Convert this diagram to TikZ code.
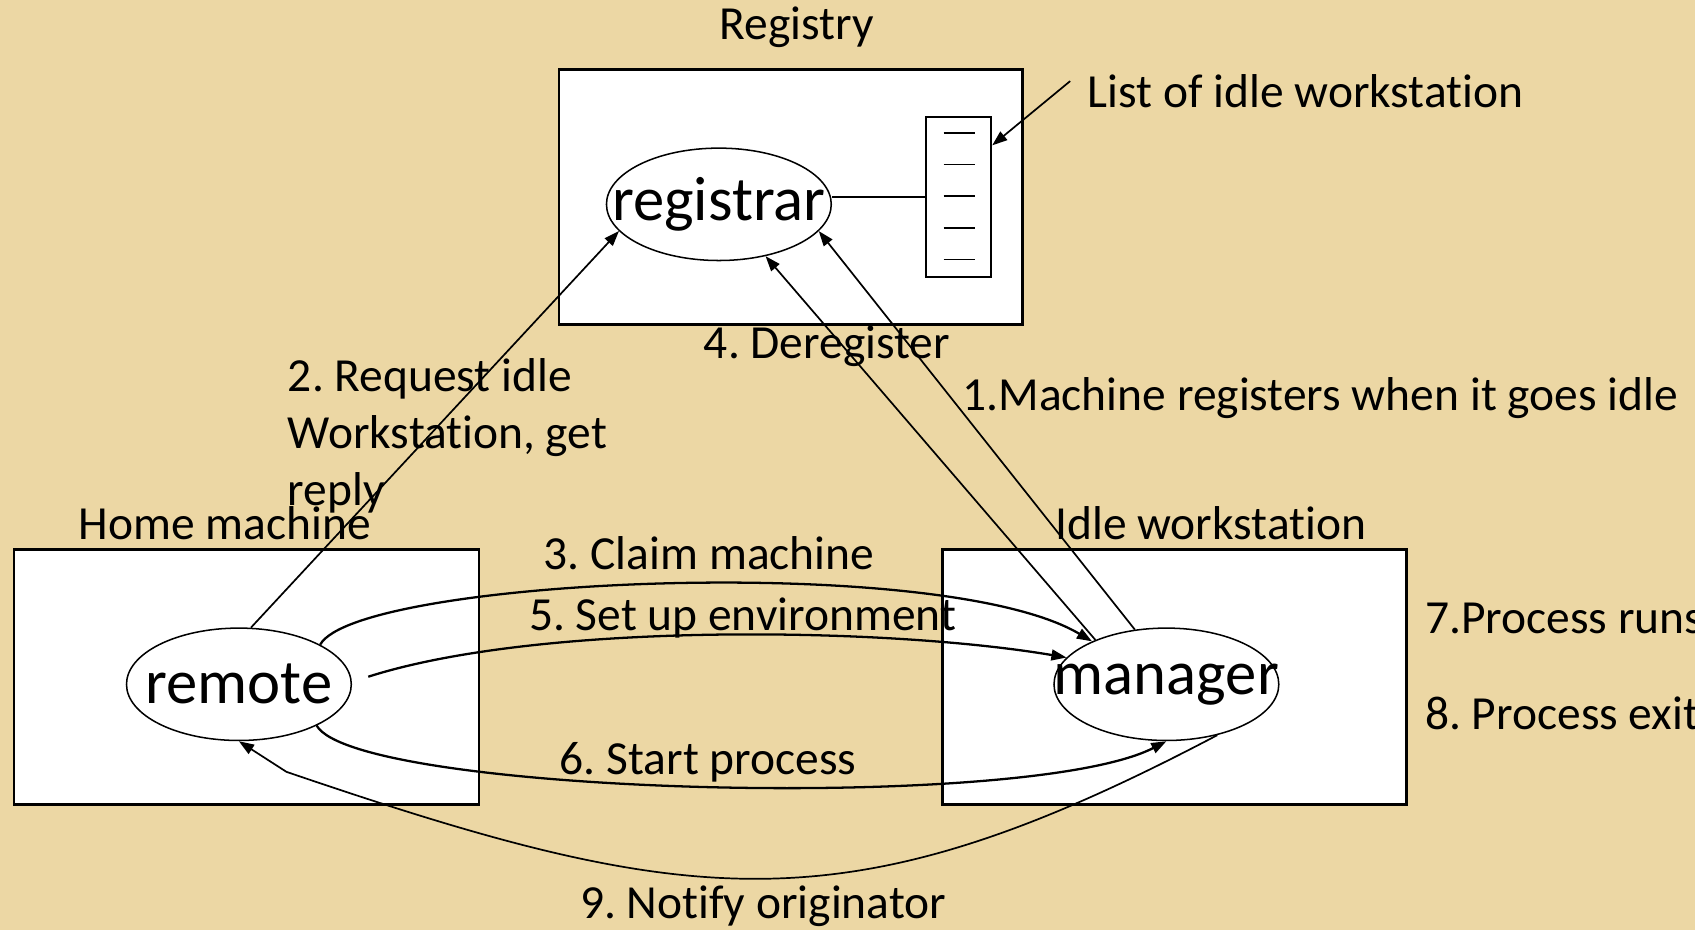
\documentclass[tikz,border=0pt]{standalone}
\usepackage{fontspec}
\setmainfont{Carlito}[Ligatures=NoCommon]
\usetikzlibrary{arrows.meta,shapes.geometric}
\definecolor{paper}{RGB}{236,215,164}
\frenchspacing
\tikzset{
  box/.style={draw,fill=white,line width=1.4pt,inner sep=0pt},
  proc/.style={ellipse,draw,fill=white,line width=0.8pt,inner sep=0pt,minimum width=4.16cm,minimum height=2.08cm,font=\fontsize{33}{40}\selectfont},
  lbl/.style={font=\fontsize{25}{30}\selectfont,inner sep=0pt},
  msg/.style={line width=0.9pt,-{Triangle[length=0.28cm,width=0.2cm]}},
  bend msg/.style={msg,line width=1.2pt}
}
\begin{document}
\begin{tikzpicture}[x=0.02cm,y=-0.02cm]
  \useasboundingbox (0,0) rectangle (1568,860);
  \clip (0,0) rectangle (1568,860);
  \fill[paper] (0,0) rectangle (1568,860);

  % machines
  \node (registry) at (731.5, 182) [box,minimum width=8.58cm,minimum height=4.72cm] {};
  \node (home) at (228, 626) [box,minimum width=8.6cm,minimum height=4.72cm] {};
  \node (idle) at (1086.5, 626) [box,minimum width=8.58cm,minimum height=4.72cm] {};
  \node (list) at (887, 182) [box,line width=1pt,minimum width=1.2cm,minimum height=2.96cm] {};
  \foreach \k in {0,...,4}
    \draw[line width=0.8pt] (873, {123+29.25*\k}) -- ++(29, 0);

  \node (registrar) at (665, 189) [proc] {\makebox[0pt]{registrar}};
  \node (remote) at (221, 633) [proc] {\makebox[0pt]{remote}};
  \node (manager) at (1079, 633) [proc] {\makebox[0pt]{manager}};

  % labels
  \node (registrylbl) at (737, 25) [lbl] {Registry};
  \node (homelbl) at (208, 484) [lbl] {Home machine};
  \node (idlelbl) at (1120, 484) [lbl] {Idle workstation};
  \node (listlbl) at (1006, 84) [lbl,anchor=west] {List of idle workstation};
  \node (reqlbl) at (266, 403) [lbl,anchor=west,align=left] {2. Request idle\\Workstation, get\\reply};
  \node (dereglbl) at (765, 320) [lbl] {4. Deregister};
  \node (reglbl) at (890, 368) [lbl,anchor=west] {1.Machine registers when it goes idle};
  \node (claimlbl) at (656, 512) [lbl] {3. Claim machine};
  \node (envlbl) at (687, 572) [lbl] {5. Set up environment};
  \node (startlbl) at (655, 705) [lbl] {6. Start process};
  \node (notifylbl) at (706, 838) [lbl] {9. Notify originator};
  \node (runslbl) at (1318, 572) [lbl,anchor=west] {7.Process runs};
  \node (exitlbl) at (1318, 660) [lbl,anchor=west] {8. Process exit};

  % messages
  \coordinate (listtail) at (990, 75);
  \draw[msg] (listtail) -- (list.57);
  \draw[line width=0.9pt] (list.west) -- (list.west -| registrar.east);
  \draw[msg] (remote.78) -- (registrar.195);
  \draw[msg] (manager.120) -- (registrar.-15);
  \draw[msg] (manager.148) -- (registrar.-48);
  \draw[bend msg] (remote.26) .. controls (330, 535) and (870, 510) .. (manager.150);
  \draw[bend msg] ([shift={(15,-7)}]remote.east) .. controls (500, 575) and (820, 580) .. (manager.165);
  \draw[bend msg] (remote.-28) .. controls (330, 735) and (950, 752) .. (manager.south);
  \draw[msg] (manager.-45) .. controls (784, 860) and (643, 843) .. (265, 714) -- (remote.south);
\end{tikzpicture}
\end{document}
